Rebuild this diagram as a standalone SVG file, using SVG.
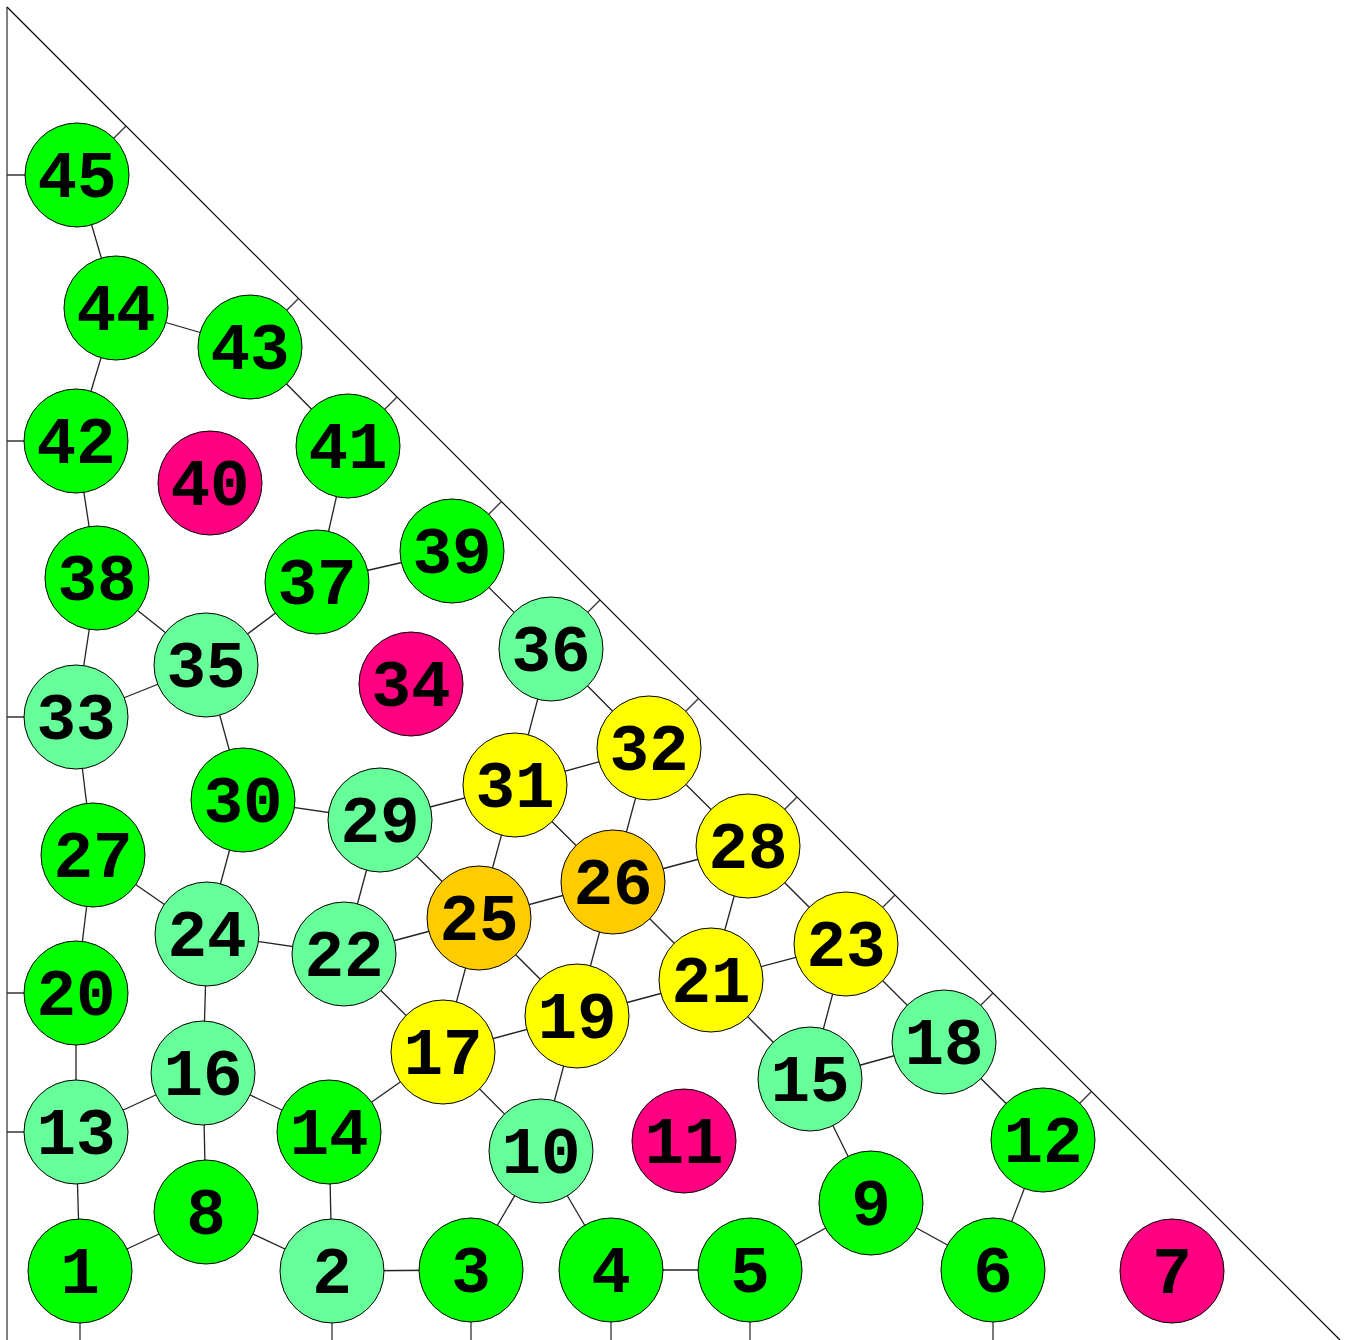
<svg xmlns="http://www.w3.org/2000/svg" width="1347" height="1340" viewBox="0 0 1347 1340">
<style>
.e{stroke:#222;stroke-width:1.3;fill:none}
.t{stroke:#333;stroke-width:1.3;fill:none}
.n circle{stroke:#000;stroke-width:1}
.n text{font-family:"Liberation Mono","Courier New",monospace;font-weight:bold;font-size:66px;text-anchor:middle;fill:#000}
.g circle{fill:#00FF00}.l circle{fill:#66FF99}.y circle{fill:#FFFF00}.o circle{fill:#FFCC00}.p circle{fill:#FF0080}
</style>
<rect width="1347" height="1340" fill="#fff"/>
<g id="frame">
<line x1="7" y1="7" x2="7" y2="1340" stroke="#808080" stroke-width="2"/>
<line x1="7" y1="7" x2="1340" y2="1340" stroke="#000" stroke-width="1.2"/>
</g>
<g id="connectors">
<line class="t" x1="77" y1="175" x2="7" y2="175"/>
<line class="t" x1="76" y1="441" x2="7" y2="441"/>
<line class="t" x1="76" y1="717" x2="7" y2="717"/>
<line class="t" x1="76" y1="993" x2="7" y2="993"/>
<line class="t" x1="76" y1="1132" x2="7" y2="1132"/>
<line class="t" x1="80" y1="1271" x2="80" y2="1340"/>
<line class="t" x1="332" y1="1271" x2="332" y2="1340"/>
<line class="t" x1="471" y1="1270" x2="471" y2="1340"/>
<line class="t" x1="611" y1="1270" x2="611" y2="1340"/>
<line class="t" x1="750" y1="1270" x2="750" y2="1340"/>
<line class="t" x1="993" y1="1270" x2="993" y2="1340"/>
<line class="t" x1="77" y1="175" x2="126" y2="126"/>
<line class="t" x1="250" y1="347" x2="298.5" y2="298.5"/>
<line class="t" x1="348" y1="446" x2="397" y2="397"/>
<line class="t" x1="452" y1="551" x2="501.5" y2="501.5"/>
<line class="t" x1="551" y1="649" x2="600" y2="600"/>
<line class="t" x1="649" y1="748" x2="698.5" y2="698.5"/>
<line class="t" x1="748" y1="846" x2="797" y2="797"/>
<line class="t" x1="846" y1="944" x2="895" y2="895"/>
<line class="t" x1="944" y1="1042" x2="993" y2="993"/>
<line class="t" x1="1043" y1="1140" x2="1091.5" y2="1091.5"/>
<line class="e" x1="80" y1="1271" x2="206" y2="1212"/>
<line class="e" x1="80" y1="1271" x2="76" y2="1132"/>
<line class="e" x1="206" y1="1212" x2="332" y2="1271"/>
<line class="e" x1="206" y1="1212" x2="203" y2="1073"/>
<line class="e" x1="332" y1="1271" x2="329" y2="1132"/>
<line class="e" x1="332" y1="1271" x2="471" y2="1270"/>
<line class="e" x1="471" y1="1270" x2="541" y2="1151"/>
<line class="e" x1="541" y1="1151" x2="611" y2="1270"/>
<line class="e" x1="611" y1="1270" x2="750" y2="1270"/>
<line class="e" x1="750" y1="1270" x2="871" y2="1203"/>
<line class="e" x1="871" y1="1203" x2="993" y2="1270"/>
<line class="e" x1="871" y1="1203" x2="810" y2="1079"/>
<line class="e" x1="993" y1="1270" x2="1043" y2="1140"/>
<line class="e" x1="1043" y1="1140" x2="944" y2="1042"/>
<line class="e" x1="541" y1="1151" x2="443" y2="1052"/>
<line class="e" x1="541" y1="1151" x2="577" y2="1016"/>
<line class="e" x1="329" y1="1132" x2="443" y2="1052"/>
<line class="e" x1="329" y1="1132" x2="203" y2="1073"/>
<line class="e" x1="203" y1="1073" x2="76" y2="1132"/>
<line class="e" x1="203" y1="1073" x2="207" y2="934"/>
<line class="e" x1="76" y1="1132" x2="76" y2="993"/>
<line class="e" x1="76" y1="993" x2="93" y2="855"/>
<line class="e" x1="93" y1="855" x2="207" y2="934"/>
<line class="e" x1="93" y1="855" x2="76" y2="717"/>
<line class="e" x1="207" y1="934" x2="344" y2="954"/>
<line class="e" x1="207" y1="934" x2="243" y2="800"/>
<line class="e" x1="344" y1="954" x2="380" y2="820"/>
<line class="e" x1="344" y1="954" x2="443" y2="1052"/>
<line class="e" x1="344" y1="954" x2="479" y2="918"/>
<line class="e" x1="443" y1="1052" x2="479" y2="918"/>
<line class="e" x1="443" y1="1052" x2="577" y2="1016"/>
<line class="e" x1="577" y1="1016" x2="479" y2="918"/>
<line class="e" x1="577" y1="1016" x2="613" y2="882"/>
<line class="e" x1="577" y1="1016" x2="711" y2="980"/>
<line class="e" x1="711" y1="980" x2="613" y2="882"/>
<line class="e" x1="711" y1="980" x2="748" y2="846"/>
<line class="e" x1="711" y1="980" x2="846" y2="944"/>
<line class="e" x1="711" y1="980" x2="810" y2="1079"/>
<line class="e" x1="810" y1="1079" x2="846" y2="944"/>
<line class="e" x1="810" y1="1079" x2="944" y2="1042"/>
<line class="e" x1="944" y1="1042" x2="846" y2="944"/>
<line class="e" x1="846" y1="944" x2="748" y2="846"/>
<line class="e" x1="748" y1="846" x2="613" y2="882"/>
<line class="e" x1="748" y1="846" x2="649" y2="748"/>
<line class="e" x1="613" y1="882" x2="515" y2="785"/>
<line class="e" x1="613" y1="882" x2="649" y2="748"/>
<line class="e" x1="613" y1="882" x2="479" y2="918"/>
<line class="e" x1="479" y1="918" x2="380" y2="820"/>
<line class="e" x1="479" y1="918" x2="515" y2="785"/>
<line class="e" x1="380" y1="820" x2="243" y2="800"/>
<line class="e" x1="380" y1="820" x2="515" y2="785"/>
<line class="e" x1="515" y1="785" x2="649" y2="748"/>
<line class="e" x1="515" y1="785" x2="551" y2="649"/>
<line class="e" x1="649" y1="748" x2="551" y2="649"/>
<line class="e" x1="551" y1="649" x2="452" y2="551"/>
<line class="e" x1="243" y1="800" x2="206" y2="665"/>
<line class="e" x1="206" y1="665" x2="76" y2="717"/>
<line class="e" x1="206" y1="665" x2="97" y2="578"/>
<line class="e" x1="206" y1="665" x2="317" y2="582"/>
<line class="e" x1="76" y1="717" x2="97" y2="578"/>
<line class="e" x1="97" y1="578" x2="76" y2="441"/>
<line class="e" x1="76" y1="441" x2="116" y2="308"/>
<line class="e" x1="116" y1="308" x2="77" y2="175"/>
<line class="e" x1="116" y1="308" x2="250" y2="347"/>
<line class="e" x1="250" y1="347" x2="348" y2="446"/>
<line class="e" x1="348" y1="446" x2="317" y2="582"/>
<line class="e" x1="317" y1="582" x2="452" y2="551"/>
</g>
<g id="n1" class="n g"><circle cx="80" cy="1271" r="52"/><text x="80" y="1293">1</text></g>
<g id="n2" class="n l"><circle cx="332" cy="1271" r="52"/><text x="332" y="1293">2</text></g>
<g id="n3" class="n g"><circle cx="471" cy="1270" r="52"/><text x="471" y="1292">3</text></g>
<g id="n4" class="n g"><circle cx="611" cy="1270" r="52"/><text x="611" y="1292">4</text></g>
<g id="n5" class="n g"><circle cx="750" cy="1270" r="52"/><text x="750" y="1292">5</text></g>
<g id="n6" class="n g"><circle cx="993" cy="1270" r="52"/><text x="993" y="1292">6</text></g>
<g id="n7" class="n p"><circle cx="1172" cy="1271" r="52"/><text x="1172" y="1293">7</text></g>
<g id="n8" class="n g"><circle cx="206" cy="1212" r="52"/><text x="206" y="1234">8</text></g>
<g id="n9" class="n g"><circle cx="871" cy="1203" r="52"/><text x="871" y="1225">9</text></g>
<g id="n10" class="n l"><circle cx="541" cy="1151" r="52"/><text x="541" y="1173">10</text></g>
<g id="n11" class="n p"><circle cx="684" cy="1141" r="52"/><text x="684" y="1163">11</text></g>
<g id="n12" class="n g"><circle cx="1043" cy="1140" r="52"/><text x="1043" y="1162">12</text></g>
<g id="n13" class="n l"><circle cx="76" cy="1132" r="52"/><text x="76" y="1154">13</text></g>
<g id="n14" class="n g"><circle cx="329" cy="1132" r="52"/><text x="329" y="1154">14</text></g>
<g id="n15" class="n l"><circle cx="810" cy="1079" r="52"/><text x="810" y="1101">15</text></g>
<g id="n16" class="n l"><circle cx="203" cy="1073" r="52"/><text x="203" y="1095">16</text></g>
<g id="n17" class="n y"><circle cx="443" cy="1052" r="52"/><text x="443" y="1074">17</text></g>
<g id="n18" class="n l"><circle cx="944" cy="1042" r="52"/><text x="944" y="1064">18</text></g>
<g id="n19" class="n y"><circle cx="577" cy="1016" r="52"/><text x="577" y="1038">19</text></g>
<g id="n20" class="n g"><circle cx="76" cy="993" r="52"/><text x="76" y="1015">20</text></g>
<g id="n21" class="n y"><circle cx="711" cy="980" r="52"/><text x="711" y="1002">21</text></g>
<g id="n22" class="n l"><circle cx="344" cy="954" r="52"/><text x="344" y="976">22</text></g>
<g id="n23" class="n y"><circle cx="846" cy="944" r="52"/><text x="846" y="966">23</text></g>
<g id="n24" class="n l"><circle cx="207" cy="934" r="52"/><text x="207" y="956">24</text></g>
<g id="n25" class="n o"><circle cx="479" cy="918" r="52"/><text x="479" y="940">25</text></g>
<g id="n26" class="n o"><circle cx="613" cy="882" r="52"/><text x="613" y="904">26</text></g>
<g id="n27" class="n g"><circle cx="93" cy="855" r="52"/><text x="93" y="877">27</text></g>
<g id="n28" class="n y"><circle cx="748" cy="846" r="52"/><text x="748" y="868">28</text></g>
<g id="n29" class="n l"><circle cx="380" cy="820" r="52"/><text x="380" y="842">29</text></g>
<g id="n30" class="n g"><circle cx="243" cy="800" r="52"/><text x="243" y="822">30</text></g>
<g id="n31" class="n y"><circle cx="515" cy="785" r="52"/><text x="515" y="807">31</text></g>
<g id="n32" class="n y"><circle cx="649" cy="748" r="52"/><text x="649" y="770">32</text></g>
<g id="n33" class="n l"><circle cx="76" cy="717" r="52"/><text x="76" y="739">33</text></g>
<g id="n34" class="n p"><circle cx="411" cy="684" r="52"/><text x="411" y="706">34</text></g>
<g id="n35" class="n l"><circle cx="206" cy="665" r="52"/><text x="206" y="687">35</text></g>
<g id="n36" class="n l"><circle cx="551" cy="649" r="52"/><text x="551" y="671">36</text></g>
<g id="n37" class="n g"><circle cx="317" cy="582" r="52"/><text x="317" y="604">37</text></g>
<g id="n38" class="n g"><circle cx="97" cy="578" r="52"/><text x="97" y="600">38</text></g>
<g id="n39" class="n g"><circle cx="452" cy="551" r="52"/><text x="452" y="573">39</text></g>
<g id="n40" class="n p"><circle cx="210" cy="483" r="52"/><text x="210" y="505">40</text></g>
<g id="n41" class="n g"><circle cx="348" cy="446" r="52"/><text x="348" y="468">41</text></g>
<g id="n42" class="n g"><circle cx="76" cy="441" r="52"/><text x="76" y="463">42</text></g>
<g id="n43" class="n g"><circle cx="250" cy="347" r="52"/><text x="250" y="369">43</text></g>
<g id="n44" class="n g"><circle cx="116" cy="308" r="52"/><text x="116" y="330">44</text></g>
<g id="n45" class="n g"><circle cx="77" cy="175" r="52"/><text x="77" y="197">45</text></g>
</svg>
